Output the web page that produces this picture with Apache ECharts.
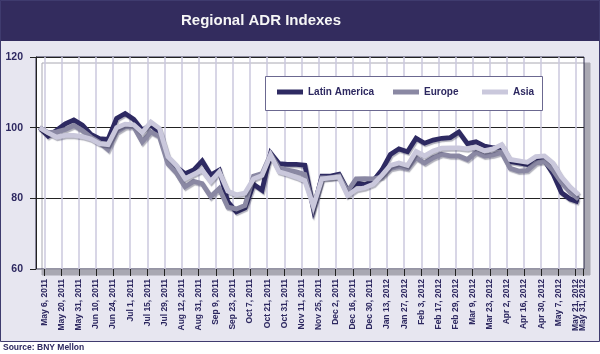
<!DOCTYPE html>
<html>
<head>
<meta charset="utf-8">
<title>Regional ADR Indexes</title>
<script src="https://cdn.jsdelivr.net/npm/echarts@6/dist/echarts.min.js"></script>
<style>
  html, body { margin: 0; padding: 0; background: #fff; }
  #chart { width: 600px; height: 354px; }
</style>
</head>
<body>
<div id="chart"></div>
<script>
// axis labels (one per band, the last two share the final band)
var dates = ['May 6, 2011', 'May 20, 2011', 'May 31, 2011', 'Jun 10, 2011', 'Jun 24, 2011',
  'Jul 1, 2011', 'Jul 15, 2011', 'Jul 29, 2011', 'Aug 12, 2011', 'Aug 31, 2011', 'Sep 9, 2011',
  'Sep 23, 2011', 'Oct 7, 2011', 'Oct 21, 2011', 'Oct 31, 2011', 'Nov 11, 2011', 'Nov 25, 2011',
  'Dec 2, 2011', 'Dec 16, 2011', 'Dec 30, 2011', 'Jan 13, 2012', 'Jan 27, 2012', 'Feb 3, 2012',
  'Feb 17, 2012', 'Feb 29, 2012', 'Mar 9, 2012', 'Mar 23, 2012', 'Apr 2, 2012', 'Apr 16, 2012',
  'Apr 30, 2012', 'May 7, 2012', 'May 21, 2012', 'May 31, 2012'];

// weekly index values
var latam = [100, 97.6, 99.3, 101.1, 102.2, 100.7, 98.1, 96.9, 96.7, 102.6,
  104.0, 102.4, 99.3, 100.9, 98.4, 91.0, 88.8, 87.0, 88.0, 90.6,
  86.6, 88.0, 79.0, 76.2, 77.3, 84.0, 82.3, 92.8, 89.8, 89.6,
  89.6, 89.4, 77.0, 86.3, 86.3, 86.8, 82.2, 84.5, 83.8, 85.0,
  88.0, 92.4, 94.0, 93.2, 97.0, 95.6, 96.5, 97.0, 97.2, 98.8,
  95.5, 96.0, 94.8, 94.3, 94.6, 90.4, 90.0, 89.6, 90.6, 90.8,
  87.0, 81.6, 79.8, 79.0];
var europe = [100, 98.6, 98.8, 99.5, 100.6, 99.2, 97.3, 95.8, 93.8, 98.8,
  100.3, 100.3, 96.0, 98.8, 97.5, 89.8, 87.2, 83.3, 84.8, 84.2,
  80.5, 82.8, 77.5, 77.0, 78.0, 86.3, 87.0, 92.5, 88.5, 88.0,
  87.5, 86.8, 77.5, 85.8, 85.8, 86.3, 82.0, 85.5, 85.6, 85.5,
  86.0, 88.5, 89.0, 88.5, 91.5, 90.0, 91.5, 92.5, 92.0, 92.0,
  91.0, 93.0, 92.0, 92.3, 93.0, 88.5, 87.7, 87.9, 90.0, 90.5,
  88.0, 84.5, 81.8, 79.8];
var asia = [100, 98.5, 97.3, 97.8, 97.8, 97.5, 96.8, 95.5, 95.2, 100.0,
  101.0, 100.8, 98.6, 101.6, 99.8, 91.8, 89.3, 85.6, 86.8, 88.0,
  84.8, 87.5, 82.0, 81.0, 81.5, 85.5, 86.5, 92.3, 87.5, 86.8,
  86.0, 85.0, 77.8, 85.5, 85.8, 86.0, 80.8, 82.5, 83.0, 84.0,
  86.5, 89.3, 90.0, 89.3, 93.3, 92.0, 93.4, 94.2, 94.3, 94.3,
  94.0, 94.5, 93.5, 94.0, 95.2, 91.0, 90.6, 90.2, 91.8, 92.0,
  90.0, 86.0, 83.2, 81.0];

var bandCount = 32;
var labelPos = dates.map(function (d, i) { return Math.min(i + 0.5, bandCount - 0.05); });
// the last label sits on its own axis so the overlap check keeps both
var mainPos = labelPos.slice(0, dates.length - 1);
var endPos = labelPos.slice(dates.length - 1);

var font = "'Liberation Sans', Arial, sans-serif";
var navy = '#2d2860';

function toPoints(arr) {
  return arr.map(function (v, i) { return [i, v]; });
}

function dateLabel(v) {
  var k = labelPos.indexOf(v);
  return k >= 0 ? dates[k] : '';
}

function makeSeries(name, values, color) {
  return {
    name: name,
    type: 'line',
    xAxisIndex: 1,
    data: toPoints(values),
    showSymbol: false,
    symbol: 'none',
    lineStyle: {
      width: 4.8,
      color: color,
      join: 'miter',
      shadowColor: 'rgba(30,28,60,0.35)',
      shadowBlur: 1,
      shadowOffsetX: 1,
      shadowOffsetY: 1.5
    },
    itemStyle: { color: color }
  };
}

function legendFor(name, left) {
  return {
    data: [name],
    left: left,
    top: 87,
    icon: 'rect',
    itemWidth: 26,
    itemHeight: 5,
    padding: 0,
    selectedMode: false,
    textStyle: { fontFamily: font, fontSize: 10, fontWeight: 'bold', color: navy }
  };
}

function labelStyle(pos) {
  return {
    customValues: pos,
    hideOverlap: false,
    rotate: 90,
    margin: 10,
    fontFamily: font,
    fontSize: 8.5,
    fontWeight: 'bold',
    color: navy,
    formatter: dateLabel
  };
}

var chart = echarts.init(document.getElementById('chart'));
var option = {
  animation: false,
  backgroundColor: '#e7e6f0',
  graphic: [
    { type: 'rect', z: -1, shape: { x: 0, y: 342, width: 600, height: 12 }, style: { fill: '#fff' } },
    { type: 'rect', shape: { x: 0, y: 0, width: 600, height: 41 }, style: { fill: '#332c5e' } },
    { type: 'rect', shape: { x: 0.5, y: 0.5, width: 599, height: 341 }, style: { fill: null, stroke: '#3f3b6e', lineWidth: 1 } },
    { type: 'text', x: 261, y: 21, style: { text: 'Regional ADR Indexes', fill: '#f6f6f6', font: 'bold 15px ' + font, textAlign: 'center', textVerticalAlign: 'middle' } },
    { type: 'rect', z: 3, shape: { x: 265.5, y: 76.5, width: 277, height: 34 }, style: { fill: '#fff', stroke: '#6b6890', lineWidth: 1 } },
    { type: 'text', x: 3, y: 348, style: { text: 'Source: BNY Mellon', fill: navy, font: 'bold 8.5px ' + font, textVerticalAlign: 'middle' } }
  ],
  legend: [
    legendFor('Latin America', 277),
    legendFor('Europe', 393),
    legendFor('Asia', 482)
  ],
  grid: {
    left: 36, top: 57, width: 548, height: 212,
    show: true,
    backgroundColor: '#fff',
    borderColor: '#2d2a4a',
    borderWidth: 1,
    shadowColor: '#a9a8b2',
    shadowBlur: 0.5,
    shadowOffsetX: 6,
    shadowOffsetY: 6
  },
  xAxis: [{
    type: 'value',
    min: 0,
    max: bandCount,
    interval: 1,
    axisLine: { show: true, lineStyle: { color: '#9a99a6', width: 1 } },
    axisTick: { show: true, customValues: mainPos, length: 7, lineStyle: { color: '#222', width: 1 } },
    splitLine: { show: true, lineStyle: { color: '#cbc8de', width: 1.5 } },
    axisLabel: labelStyle(mainPos)
  }, {
    type: 'value',
    min: -0.42,
    max: 63.63,
    show: false,
    splitLine: { show: false }
  }, {
    type: 'value',
    position: 'bottom',
    min: 0,
    max: bandCount,
    axisLine: { show: false },
    axisTick: { show: true, customValues: endPos, length: 7, lineStyle: { color: '#222', width: 1 } },
    splitLine: { show: false },
    axisLabel: labelStyle(endPos)
  }],
  yAxis: {
    type: 'value',
    min: 60,
    max: 120,
    interval: 20,
    axisLine: { show: true, lineStyle: { color: '#222', width: 1 } },
    axisTick: { show: true, length: 6, lineStyle: { color: '#222' } },
    splitLine: { show: true, lineStyle: { color: '#222', width: 1 } },
    axisLabel: { margin: 13, fontFamily: font, fontSize: 10.5, fontWeight: 'bold', color: navy }
  },
  series: [
    makeSeries('Latin America', latam, '#2e2a62'),
    makeSeries('Europe', europe, '#8a88a3'),
    makeSeries('Asia', asia, '#cac8dc')
  ]
};
chart.setOption(option);
</script>
</body>
</html>
